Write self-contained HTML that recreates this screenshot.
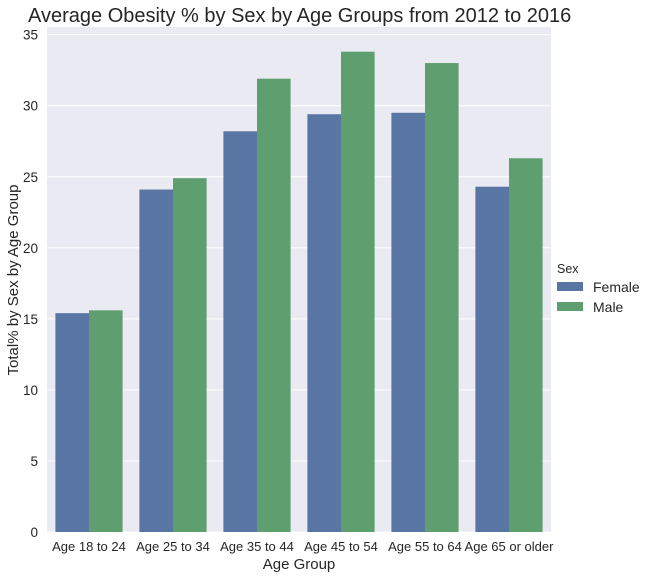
<!DOCTYPE html>
<html><head><meta charset="utf-8"><style>
body{margin:0;background:#fff;}
svg text{font-family:"Liberation Sans",Arial,sans-serif;fill:#262626;}
</style></head><body>
<svg id="chart" width="648" height="577" viewBox="0 0 648 577" xmlns="http://www.w3.org/2000/svg">
<text x="28" y="22" font-size="20">Average Obesity % by Sex by Age Groups from 2012 to 2016</text>
<rect x="47" y="27" width="504" height="505" fill="#EAEAF2"/>
<g id="grid"></g>
<g id="bars"></g>
<g id="ticks"></g>
<text x="299" y="569" font-size="15" text-anchor="middle">Age Group</text>
<text transform="translate(18,280) rotate(-90)" font-size="15" text-anchor="middle">Total% by Sex by Age Group</text>
<g>
<text x="557" y="273" font-size="12.5">Sex</text>
<rect x="557" y="282" width="26" height="9" fill="#5975A4"/>
<text x="593" y="292" font-size="14">Female</text>
<rect x="557" y="302" width="26" height="9" fill="#5F9E6E"/>
<text x="593" y="312" font-size="14">Male</text>
</g>
</svg>
<script>
const categories=["Age 18 to 24","Age 25 to 34","Age 35 to 44","Age 45 to 54","Age 55 to 64","Age 65 or older"];
const female=[15.4,24.1,28.2,29.4,29.5,24.3];
const male=[15.6,24.9,31.9,33.8,33.0,26.3];
const yTicks=[0,5,10,15,20,25,30,35];
const NS="http://www.w3.org/2000/svg";
const L=47,W=504,Y0=532,PX=14.21;
const y=v=>Y0-v*PX;
const band=W/categories.length;
const xc=i=>L+band*(i+0.5);
function mk(p,t,a){const e=document.createElementNS(NS,t);for(const k in a)e.setAttribute(k,a[k]);p.appendChild(e);return e;}
const grid=document.getElementById('grid'),bars=document.getElementById('bars'),ticks=document.getElementById('ticks');
yTicks.forEach(t=>{
 const l=mk(grid,'line',{x1:L,x2:L+W,y1:y(t),y2:y(t),stroke:'#fff','stroke-width':1});
 
 
 const tx=mk(ticks,'text',{x:38,y:y(t)+5,'font-size':13.5,'text-anchor':'end'});tx.textContent=t;
 
 
});
const bw=band*0.4;
categories.forEach((c,i)=>{
 const f=mk(bars,'rect',{x:xc(i)-bw,y:y(female[i]),width:bw,height:female[i]*PX,fill:'#5975A4'});
 
 
 const m=mk(bars,'rect',{x:xc(i),y:y(male[i]),width:bw,height:male[i]*PX,fill:'#5F9E6E'});
 
 
 const tx=mk(ticks,'text',{x:xc(i),y:551,'font-size':13,'text-anchor':'middle'});tx.textContent=c;
 
 
});
</script>
</body></html>
